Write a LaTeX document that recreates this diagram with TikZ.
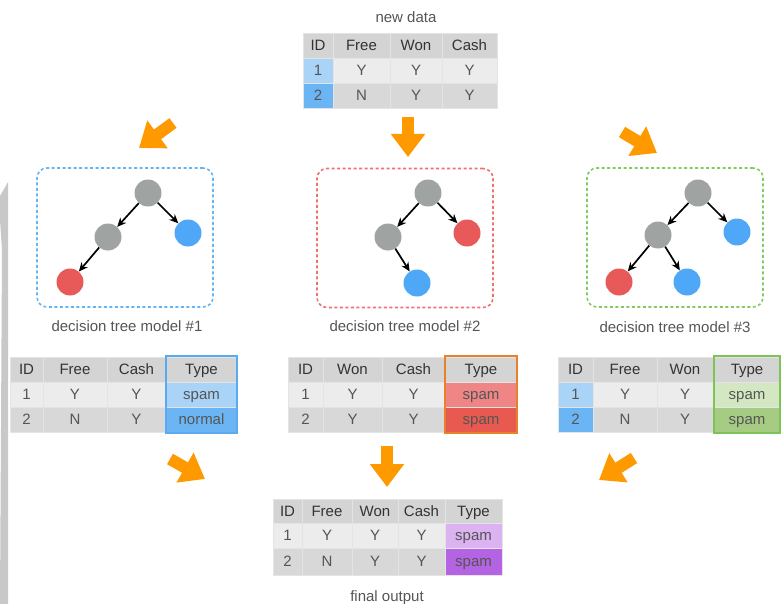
\documentclass[tikz,border=0pt]{standalone}
\usepackage{fontspec}
\setmainfont{Liberation Sans}
\usetikzlibrary{arrows.meta}
\definecolor{bodyc}{HTML}{555555}
\definecolor{hdrc}{HTML}{333333}
\definecolor{hdrfill}{HTML}{D4D4D4}
\definecolor{rowa}{HTML}{ECECEC}
\definecolor{rowb}{HTML}{D8D8D8}
\definecolor{sepc}{HTML}{E4E4E4}
\definecolor{lblue}{HTML}{A9D3F7}
\definecolor{dblue}{HTML}{6BB5F5}
\definecolor{oblue}{HTML}{5AAAF0}
\definecolor{lred}{HTML}{EF8585}
\definecolor{dred}{HTML}{E85A50}
\definecolor{ored}{HTML}{E8822A}
\definecolor{lgreen}{HTML}{D3E8C2}
\definecolor{dgreen}{HTML}{A6CC84}
\definecolor{ogreen}{HTML}{7CC455}
\definecolor{lpurp}{HTML}{DBB3F1}
\definecolor{dpurp}{HTML}{B463E3}
\definecolor{orangec}{HTML}{FF9900}
\definecolor{grayn}{HTML}{9FA3A2}
\definecolor{bluen}{HTML}{4FA8F7}
\definecolor{redn}{HTML}{E85A5A}
\definecolor{boxblue}{HTML}{66B3F5}
\definecolor{boxred}{HTML}{F07070}
\definecolor{boxgreen}{HTML}{80CC60}
\definecolor{stripec}{HTML}{C8C8C8}
\tikzset{
  txt/.style={font=\fontsize{15}{18}\selectfont, text=bodyc, inner sep=0pt, anchor=base},
  hdr/.style={txt, text=hdrc},
  cellsty/.style={draw=sepc, line width=0.6pt},
  tnode/.style={circle, minimum size=27pt, inner sep=0pt},
  tarrow/.style={-{Stealth[length=9pt,width=8pt]}, line width=1.7pt, black},
  bigarrow/.style={draw=orangec, line width=12pt, -{Triangle[length=23pt,width=33pt]}},
  dbox/.style={rounded corners=10pt, dash pattern=on 3pt off 2.5pt, line width=1.6pt, minimum width=176pt, minimum height=139pt, inner sep=0pt},
  lbl/.style={font=\fontsize{15}{18}\selectfont, text=bodyc, inner sep=0pt, anchor=base},
  outl/.style={line width=1.8pt}
}
% body cell: x1 x2 y1 y2 fill text
\newcommand\tc[6]{%
  \path[cellsty,fill=#5] (#1,#3) rectangle (#2,#4);
  \node[txt] (t#1x#3) at ({(#1+#2)/2},{(#3+#4)/2+5.3}) {#6};}
% header cell: x1 x2 y1 y2 text
\newcommand\hc[5]{%
  \path[cellsty,fill=hdrfill] (#1,#3) rectangle (#2,#4);
  \node[hdr] (h#1x#3) at ({(#1+#2)/2},{(#3+#4)/2+5.3}) {#5};}
\begin{document}
\begin{tikzpicture}[x=1pt,y=-1pt]
\useasboundingbox (0,0) rectangle (781,604);
% page edge stripe
\fill[stripec] (0,196) -- (8,182) -- (8,604) -- (0,604) -- (2,250) -- (0,220) -- cycle;

% ---------- new data ----------
\node[lbl] (newdata) at (406,23) {new data};
\hc{303}{333}{33}{58}{ID}\hc{333}{390}{33}{58}{Free}\hc{390}{442}{33}{58}{Won}\hc{442}{497}{33}{58}{Cash}
\tc{303}{333}{58}{83}{lblue}{1}\tc{333}{390}{58}{83}{rowa}{Y}\tc{390}{442}{58}{83}{rowa}{Y}\tc{442}{497}{58}{83}{rowa}{Y}
\tc{303}{333}{83}{108}{dblue}{2}\tc{333}{390}{83}{108}{rowb}{N}\tc{390}{442}{83}{108}{rowb}{Y}\tc{442}{497}{83}{108}{rowb}{Y}

% ---------- orange arrows (top) ----------
\coordinate (aLs) at (173,123); \coordinate (aLe) at (139,148);
\coordinate (aMs) at (408,117); \coordinate (aMe) at (408,157);
\coordinate (aRs) at (622,132); \coordinate (aRe) at (657,153);
\draw[bigarrow] (aLs) -- (aLe);
\draw[bigarrow] (aMs) -- (aMe);
\draw[bigarrow] (aRs) -- (aRe);

% ---------- tree 1 ----------
\node[dbox, draw=boxblue] (box1) at (125,237.5) {};
\node[tnode, fill=grayn] (r1) at (148,193) {};
\node[tnode, fill=grayn] (a1) at (108,237) {};
\node[tnode, fill=bluen] (b1) at (188,233) {};
\node[tnode, fill=redn] (c1) at (70,282) {};
\draw[tarrow] (r1) -- (a1);
\draw[tarrow] (r1) -- (b1);
\draw[tarrow] (a1) -- (c1);
\node[lbl] (l1) at (127,331) {decision tree model \#1};

% ---------- tree 2 ----------
\node[dbox, draw=boxred] (box2) at (405,238) {};
\node[tnode, fill=grayn] (r2) at (428,193) {};
\node[tnode, fill=grayn] (a2) at (388,237) {};
\node[tnode, fill=redn] (b2) at (467,233) {};
\node[tnode, fill=bluen] (c2) at (417,283) {};
\draw[tarrow] (r2) -- (a2);
\draw[tarrow] (r2) -- (b2);
\draw[tarrow] (a2) -- (c2);
\node[lbl] (l2) at (405,331) {decision tree model \#2};

% ---------- tree 3 ----------
\node[dbox, draw=boxgreen] (box3) at (675,237.5) {};
\node[tnode, fill=grayn] (r3) at (698,193) {};
\node[tnode, fill=grayn] (a3) at (658,235) {};
\node[tnode, fill=bluen] (b3) at (737,232) {};
\node[tnode, fill=redn] (c3) at (619,282) {};
\node[tnode, fill=bluen] (d3) at (687,282) {};
\draw[tarrow] (r3) -- (a3);
\draw[tarrow] (r3) -- (b3);
\draw[tarrow] (a3) -- (c3);
\draw[tarrow] (a3) -- (d3);
\node[lbl] (l3) at (675,332) {decision tree model \#3};

% ---------- table 1 ----------
\hc{10}{43}{357}{382}{ID}\hc{43}{107}{357}{382}{Free}\hc{107}{166}{357}{382}{Cash}\hc{166}{237}{357}{382}{Type}
\tc{10}{43}{382}{407}{rowa}{1}\tc{43}{107}{382}{407}{rowa}{Y}\tc{107}{166}{382}{407}{rowa}{Y}\tc{166}{237}{382}{407}{lblue}{spam}
\tc{10}{43}{407}{432}{rowb}{2}\tc{43}{107}{407}{432}{rowb}{N}\tc{107}{166}{407}{432}{rowb}{Y}\tc{166}{237}{407}{432}{dblue}{normal}
\draw[outl, draw=oblue] (166,356) rectangle (237,433);

% ---------- table 2 ----------
\hc{288}{323}{357}{382}{ID}\hc{323}{382}{357}{382}{Won}\hc{382}{445}{357}{382}{Cash}\hc{445}{517}{357}{382}{Type}
\tc{288}{323}{382}{407}{rowa}{1}\tc{323}{382}{382}{407}{rowa}{Y}\tc{382}{445}{382}{407}{rowa}{Y}\tc{445}{517}{382}{407}{lred}{spam}
\tc{288}{323}{407}{432}{rowb}{2}\tc{323}{382}{407}{432}{rowb}{Y}\tc{382}{445}{407}{432}{rowb}{Y}\tc{445}{517}{407}{432}{dred}{spam}
\draw[outl, draw=ored] (445,356) rectangle (517,433);

% ---------- table 3 ----------
\hc{558}{593}{357}{382}{ID}\hc{593}{657}{357}{382}{Free}\hc{657}{713}{357}{382}{Won}\hc{713}{781}{357}{382}{Type}
\tc{558}{593}{382}{407}{lblue}{1}\tc{593}{657}{382}{407}{rowa}{Y}\tc{657}{713}{382}{407}{rowa}{Y}\tc{713}{781}{382}{407}{lgreen}{spam}
\tc{558}{593}{407}{432}{dblue}{2}\tc{593}{657}{407}{432}{rowb}{N}\tc{657}{713}{407}{432}{rowb}{Y}\tc{713}{781}{407}{432}{dgreen}{spam}
\draw[outl, draw=ogreen] (714,356) rectangle (780,433);

% ---------- orange arrows (bottom) ----------
\coordinate (bLs) at (170,459); \coordinate (bLe) at (205,479);
\coordinate (bMs) at (387,446); \coordinate (bMe) at (387,487);
\coordinate (bRs) at (634,458); \coordinate (bRe) at (599,480);
\draw[bigarrow] (bLs) -- (bLe);
\draw[bigarrow] (bMs) -- (bMe);
\draw[bigarrow] (bRs) -- (bRe);

% ---------- final output ----------
\hc{273}{302}{499}{523}{ID}\hc{302}{352}{499}{523}{Free}\hc{352}{398}{499}{523}{Won}\hc{398}{445}{499}{523}{Cash}\hc{445}{502}{499}{523}{Type}
\tc{273}{302}{523}{548}{rowa}{1}\tc{302}{352}{523}{548}{rowa}{Y}\tc{352}{398}{523}{548}{rowa}{Y}\tc{398}{445}{523}{548}{rowa}{Y}\tc{445}{502}{523}{548}{lpurp}{spam}
\tc{273}{302}{548}{575}{rowb}{2}\tc{302}{352}{548}{575}{rowb}{N}\tc{352}{398}{548}{575}{rowb}{Y}\tc{398}{445}{548}{575}{rowb}{Y}\tc{445}{502}{548}{575}{dpurp}{spam}
\node[lbl] (fo) at (387,601) {final output};
\end{tikzpicture}
\end{document}
